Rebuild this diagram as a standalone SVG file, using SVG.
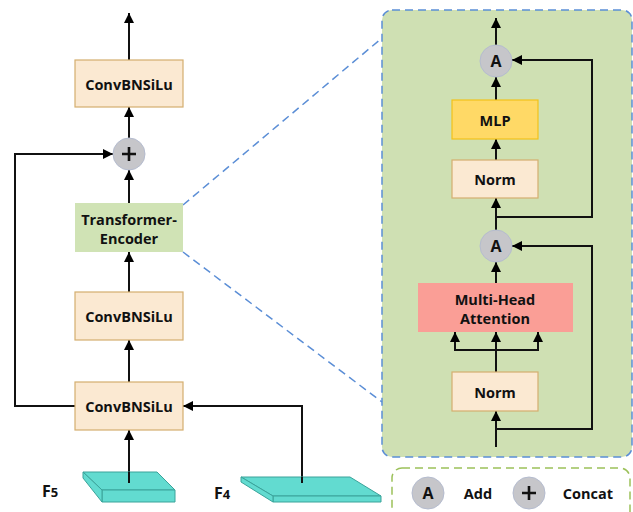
<svg xmlns="http://www.w3.org/2000/svg" width="633" height="512" viewBox="0 0 633 512">
<defs>
<marker id="ah" viewBox="0 0 10 10" refX="10" refY="5" markerWidth="10" markerHeight="10" markerUnits="userSpaceOnUse" orient="auto">
<path d="M0,0 L10,5 L0,10 Z" fill="#000"/>
</marker>
<style>
.box{fill:#fbe9d2;stroke:#d4ae6e;stroke-width:1.2}
.t{font-family:"Open Sans","Noto Sans","DejaVu Sans",sans-serif;font-weight:bold;font-size:14.5px;fill:#111;text-anchor:middle;dominant-baseline:central}
.c{fill:#c6c6ca;stroke:#b5bccf;stroke-width:1}
.ct{font-family:"Open Sans","Noto Sans","DejaVu Sans",sans-serif;font-weight:bold;font-size:16px;fill:#111;text-anchor:middle;dominant-baseline:central}
.pl{fill:none;stroke:#111;stroke-width:2.6}
.ln{fill:none;stroke:#111;stroke-width:2}
.slab{fill:#62dbd0;stroke:#3aa39a;stroke-width:1}
.lab{font-family:"Open Sans","Noto Sans","DejaVu Sans",sans-serif;font-weight:bold;font-size:16px;fill:#111}
</style>
</defs>
<rect width="633" height="512" fill="#fff"/>

<!-- zoom panel -->
<g id="panel">
<rect x="382" y="10" width="250" height="447" rx="10" fill="#cfe0b3" stroke="#5b8ed6" stroke-width="1.5" stroke-dasharray="8,5"/>
</g>
<g id="zoomlines" fill="none" stroke="#5b8ed6" stroke-width="1.5" stroke-dasharray="8,5">
<line x1="183" y1="205" x2="382" y2="38"/>
<line x1="183" y1="252" x2="382" y2="402"/>
</g>

<!-- connectors -->
<g id="connectors" class="ln">
<line class="ln" x1="129" y1="60" x2="129" y2="13" marker-end="url(#ah)"/>
<line class="ln" x1="129" y1="138" x2="129" y2="107" marker-end="url(#ah)"/>
<line class="ln" x1="129" y1="203" x2="129" y2="170" marker-end="url(#ah)"/>
<line class="ln" x1="129" y1="292" x2="129" y2="252" marker-end="url(#ah)"/>
<line class="ln" x1="129" y1="382" x2="129" y2="340" marker-end="url(#ah)"/>
<line class="ln" x1="129" y1="483" x2="129" y2="430" marker-end="url(#ah)"/>
<polyline class="ln" points="75,406 15,406 15,154 113,154" marker-end="url(#ah)"/>
<polyline class="ln" points="302,483 302,406 183,406" marker-end="url(#ah)"/>

<line class="ln" x1="496" y1="45" x2="496" y2="18" marker-end="url(#ah)"/>
<line class="ln" x1="496" y1="100" x2="496" y2="77" marker-end="url(#ah)"/>
<line class="ln" x1="496" y1="160" x2="496" y2="139" marker-end="url(#ah)"/>
<line class="ln" x1="496" y1="230" x2="496" y2="198" marker-end="url(#ah)"/>
<polyline class="ln" points="496,217 592,217 592,60 512,60" marker-end="url(#ah)"/>
<line class="ln" x1="496" y1="283" x2="496" y2="262" marker-end="url(#ah)"/>
<line class="ln" x1="496" y1="372" x2="496" y2="332" marker-end="url(#ah)"/>
<polyline class="ln" points="455,332 455,350 538,350 538,332"/>
<line class="ln" x1="455" y1="350" x2="455" y2="332" marker-end="url(#ah)"/>
<line class="ln" x1="538" y1="350" x2="538" y2="332" marker-end="url(#ah)"/>
<line class="ln" x1="496" y1="447" x2="496" y2="411" marker-end="url(#ah)"/>
<polyline class="ln" points="496,429 592,429 592,246 512,246" marker-end="url(#ah)"/>
</g>

<!-- left column nodes -->
<g id="conv-top"><rect class="box" x="75" y="60" width="108" height="47"/><text class="t" x="129" y="84">ConvBNSiLu</text></g>
<g id="concat"><circle class="c" cx="129" cy="154" r="16"/><path class="pl" d="M122,154 H136 M129,147 V161"/></g>
<g id="transformer"><rect x="75" y="203" width="108" height="49" fill="#d0e3b5"/><text class="t" x="129" y="219">Transformer-</text><text class="t" x="129" y="238">Encoder</text></g>
<g id="conv-mid"><rect class="box" x="75" y="292" width="108" height="48"/><text class="t" x="129" y="316">ConvBNSiLu</text></g>
<g id="conv-bot"><rect class="box" x="75" y="382" width="108" height="48"/><text class="t" x="129" y="406">ConvBNSiLu</text></g>

<g id="f5">
<polygon class="slab" points="83,472 157,472 175,490 102,490"/>
<polygon class="slab" points="102,490 175,490 175,502 102,502"/>
<polygon class="slab" points="83,472 102,490 102,502 83,478"/>
<text class="lab" x="42" y="497">F<tspan font-size="13">5</tspan></text>
</g>
<g id="f4">
<polygon class="slab" points="241,477 350,477 381,496 273,496"/>
<polygon class="slab" points="273,496 381,496 381,502 273,502"/>
<polygon class="slab" points="241,477 273,496 273,502 241,482"/>
<text class="lab" x="214" y="499">F<tspan font-size="13">4</tspan></text>
</g>
<line class="ln" x1="129" y1="483" x2="129" y2="472" stroke="#111"/>
<line class="ln" x1="302" y1="483" x2="302" y2="477" stroke="#111"/>

<!-- right panel nodes -->
<g id="add-top"><circle class="c" cx="496" cy="61" r="16"/><text class="ct" x="496" y="61">A</text></g>
<g id="mlp"><rect x="452" y="100" width="86" height="39" fill="#ffd966" stroke="#f2c21a" stroke-width="1.2"/><text class="t" x="495" y="120">MLP</text></g>
<g id="norm-top"><rect class="box" x="452" y="160" width="86" height="38"/><text class="t" x="495" y="179">Norm</text></g>
<g id="add-bot"><circle class="c" cx="496" cy="246" r="16"/><text class="ct" x="496" y="246">A</text></g>
<g id="mha"><rect x="418" y="283" width="155" height="49" fill="#fa9e96"/><text class="t" x="495" y="299">Multi-Head</text><text class="t" x="495" y="318">Attention</text></g>
<g id="norm-bot"><rect class="box" x="452" y="372" width="86" height="39"/><text class="t" x="495" y="392">Norm</text></g>

<!-- legend -->
<g id="legend">
<rect x="392" y="468" width="238" height="60" rx="10" fill="#fff" stroke="#9cc15a" stroke-width="1.5" stroke-dasharray="8,5"/>
<circle class="c" cx="428" cy="493" r="16"/><text class="ct" x="428" y="493">A</text>
<text class="t" x="478" y="493">Add</text>
<circle class="c" cx="529" cy="493" r="16"/><path class="pl" d="M522,493 H536 M529,486 V500"/>
<text class="t" x="588" y="493">Concat</text>
</g>
</svg>
